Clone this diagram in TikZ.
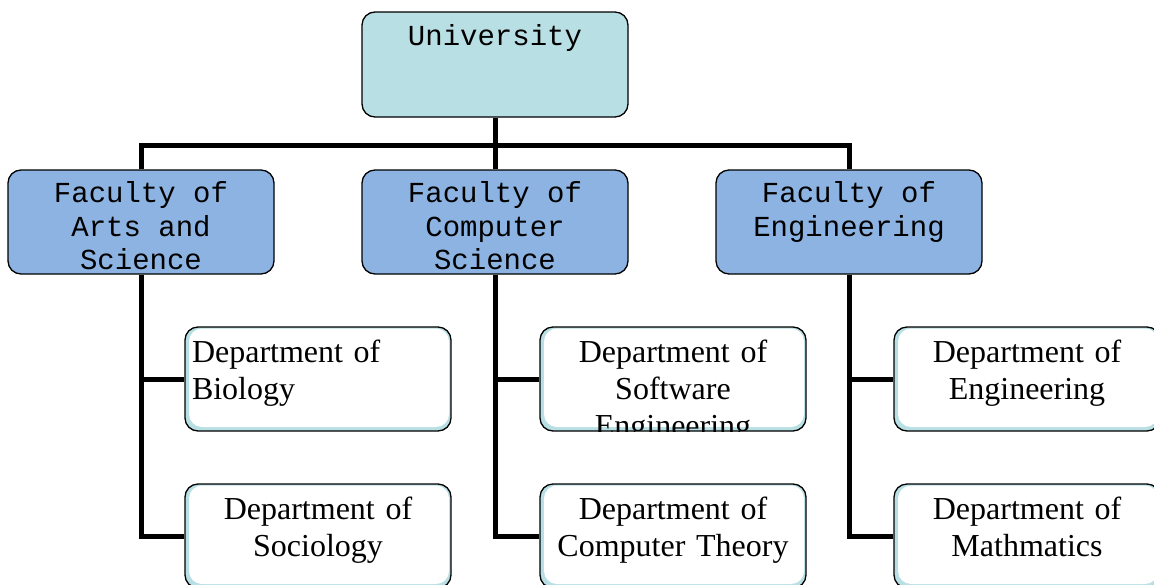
\documentclass[tikz,border=0pt]{standalone}
\usepackage{fontspec}
\setmainfont{Liberation Serif}
\setmonofont{Liberation Mono}
\definecolor{uniblue}{RGB}{184,223,228}
\definecolor{facblue}{RGB}{141,179,226}
\tikzset{
	box/.style={draw=black, line width=1.3pt, rounded corners=13pt, minimum width=266pt, minimum height=104pt, inner sep=0pt},
	monotext/.style={anchor=north, align=center, text width=258pt, minimum size=0pt, inner sep=0pt, font=\ttfamily\fontsize{29}{33.5}\selectfont},
	serftext/.style={anchor=north, align=center, text width=252pt, minimum size=0pt, inner sep=0pt, font=\rmfamily\fontsize{32}{37}\selectfont},
	unibox/.style={box, fill=uniblue, path picture={\node[monotext] at ([yshift=-12pt]path picture bounding box.north) {\spaceskip=0.6em\relax #1};}},
	facbox/.style={box, fill=facblue, path picture={\node[monotext] at ([yshift=-11pt]path picture bounding box.north) {\spaceskip=0.6em\relax #1};}},
	deptbox/.style={box, fill=uniblue, path picture={
		\fill[white] ([shift={(4pt,4pt)}]path picture bounding box.south west) rectangle ([shift={(-2pt,-1.5pt)}]path picture bounding box.north east);
		\node[serftext] at ([yshift=-12pt]path picture bounding box.north) {#1};}},
	link/.style={line width=5pt},
}
\begin{document}
\begin{tikzpicture}[x=1pt, y=-1pt]
			%%%%% START %%%%%
			\useasboundingbox (0, 0) rectangle (1154, 584);
			
			\node[unibox={University}, minimum height=105pt] (uni) at (495, 64.5) {};
			
			\node[facbox={Faculty of\\Arts and\\Science}] (arts) at (141, 222) {};
			\node[facbox={Faculty of\\Computer\\Science}] (cs) at (495, 222) {};
			\node[facbox={Faculty of\\Engineering}] (eng) at (849, 222) {};
			
			\node[deptbox={Department of\\Biology}, serftext/.append style={align=left}] (bio) at (318, 379) {};
			\node[deptbox={Department of\\Sociology}] (soc) at (318, 536) {};
			\node[deptbox={Department of\\Software\\Engineering}] (soft) at (673, 379) {};
			\node[deptbox={Department of\\Computer Theory}] (theory) at (673, 536) {};
			\node[deptbox={Department of\\Engineering}] (engd) at (1027, 379) {};
			\node[deptbox={Department of\\Mathmatics}] (math) at (1027, 536) {};
			
			\coordinate (hub) at (495, 145);
			\draw[link] (uni) -- (cs);
			\draw[link] (arts.north) |- (hub) -| (eng.north);
			
			\draw[link] (arts.south) |- (soc.west);
			\draw[link] (arts.south |- bio.west) -- (bio.west);
			\draw[link] (cs.south) |- (theory.west);
			\draw[link] (cs.south |- soft.west) -- (soft.west);
			\draw[link] (eng.south) |- (math.west);
			\draw[link] (eng.south |- engd.west) -- (engd.west);
			
			%%%%% END %%%%%
\end{tikzpicture}
\end{document}
